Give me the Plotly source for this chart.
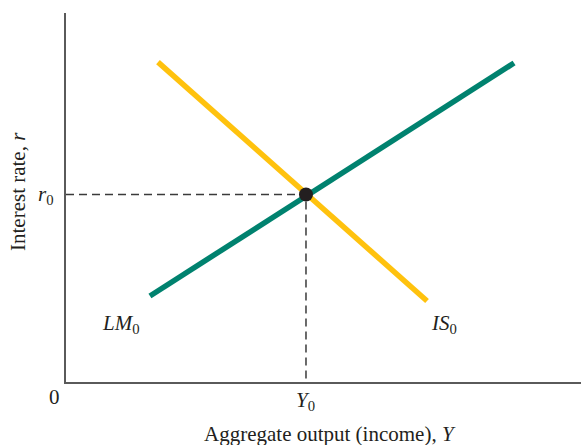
import plotly.graph_objects as go

# Data (abstract units; axes span 0..10)
is_x = [1.786, 7.01]
is_y = [8.67, 2.195]
lm_x = [1.63, 8.70]
lm_y = [2.33, 8.645]
eq_x = 4.66
eq_y = 5.08

FONT = "Liberation Serif, DejaVu Serif, serif"
W, H = 581, 445
L, R, T, B = 66, 0, 13, 63

fig = go.Figure()
fig.add_trace(go.Scatter(x=[0, eq_x, eq_x], y=[eq_y, eq_y, 0], mode="lines",
                         line=dict(color="#3a3a3a", width=1.5, dash="8px,5px"),
                         hoverinfo="skip", showlegend=False, cliponaxis=False))
fig.add_trace(go.Scatter(x=lm_x, y=lm_y, mode="lines",
                         line=dict(color="#00826F", width=5.5), showlegend=False))
fig.add_trace(go.Scatter(x=is_x, y=is_y, mode="lines",
                         line=dict(color="#FFC20E", width=5.5), showlegend=False))
fig.add_trace(go.Scatter(x=[eq_x], y=[eq_y], mode="markers",
                         marker=dict(color="#231F20", size=14), showlegend=False))

def pxp(px):
    return (px - L) / (W - L - R)

def pyp(py):
    return (H - B - py) / (H - B - T)

anns = [
    dict(x=pxp(46), y=pyp(195), text="<i>r</i><sub>0</sub>"),
    dict(x=eq_x / 10, y=pyp(401), text="<i>Y</i><sub>0</sub>"),
    dict(x=pxp(54), y=pyp(397), text="0"),
    dict(x=pxp(121), y=pyp(324), text="<i>LM</i><sub>0</sub>"),
    dict(x=pxp(444), y=pyp(324), text="<i>IS</i><sub>0</sub>"),
    dict(x=pxp(330), y=pyp(434), text="Aggregate output (income), <i>Y</i>"),
    dict(x=pxp(18), y=pyp(192), text="Interest rate, <i>r</i>", textangle=-90),
]
for a in anns:
    fig.add_annotation(xref="paper", yref="paper", showarrow=False,
                       xanchor="center", yanchor="middle",
                       font=dict(family=FONT, size=21, color="#231F20"), **a)

fig.update_xaxes(range=[0, 10], showgrid=False, zeroline=False, showticklabels=False,
                 ticks="", showline=True, linecolor="#5a5a5a", linewidth=2)
fig.update_yaxes(range=[0, 10], showgrid=False, zeroline=False, showticklabels=False,
                 ticks="", showline=True, linecolor="#5a5a5a", linewidth=2)
fig.update_layout(width=W, height=H, margin=dict(l=L, r=R, t=T, b=B),
                  plot_bgcolor="white", paper_bgcolor="white")
fig.write_html("out.html", config={"displayModeBar": False},
               post_script="document.body.style.margin='0';document.body.style.overflow='hidden';")
